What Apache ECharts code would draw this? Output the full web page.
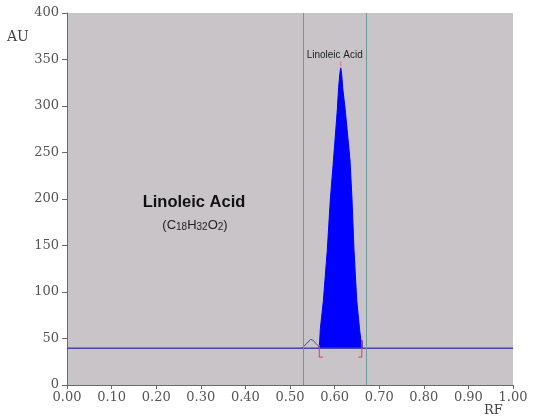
<!DOCTYPE html>
<html>
<head>
<meta charset="utf-8">
<script src="https://cdn.jsdelivr.net/npm/echarts@6/dist/echarts.min.js"></script>
<style>html,body{margin:0;padding:0;background:#fff;}#c{width:550px;height:420px;}</style>
</head>
<body>
<div id="c"></div>
<script>
// ---- data ----
const xTicks = [0, 0.1, 0.2, 0.3, 0.4, 0.5, 0.6, 0.7, 0.8, 0.9, 1.0];
const yTicks = [0, 50, 100, 150, 200, 250, 300, 350, 400];
// baseline of the densitogram (RF, AU)
const baseRF = [0, 1.0];
const baseAU = [39.5, 39.5];
// small impurity bump before the main peak
const bumpRF = [0.525, 0.530, 0.534, 0.538, 0.541, 0.546, 0.551, 0.554, 0.558, 0.5635, 0.5657];
const bumpAU = [39.5, 41, 43, 45, 46.6, 49, 48.4, 50, 44.8, 42, 39.5];
// tail bump after the main peak
const tailRF = [0.6608, 0.6612, 0.6625];
const tailAU = [39.5, 48, 39.5];
// main peak (Linoleic Acid)
const peakRF = [0.5657, 0.568, 0.5749, 0.5836, 0.5905, 0.5975, 0.6061, 0.609, 0.6118, 0.6137, 0.6158, 0.618, 0.6238, 0.6345, 0.639, 0.6435, 0.6496, 0.656, 0.6608];
const peakAU = [39.5, 60, 91, 145, 200, 242, 296, 320, 335, 341, 335, 320, 296, 242, 200, 145, 91, 60, 39.5];
const peakName = 'Linoleic Acid';
const peakApexRF = 0.6137;
const peakApexAU = 341;
// integration window (vertical lines) and bracket marks
const windowRF = [0.525, 0.666];
const bracketLeftRF = [0.5735, 0.5657, 0.5657];
const bracketLeftAU = [30, 30, 43];
const bracketRightRF = [0.6532, 0.661, 0.661];
const bracketRightAU = [30, 30, 48];

const chart = echarts.init(document.getElementById('c'));
const serif = 'DejaVu Serif';
const pairs = (xs, ys) => xs.map((x, i) => [x, ys[i]]);

chart.setOption({
  animation: false,
  backgroundColor: '#fff',
  grid: { left: 67, right: 37, top: 13, bottom: 35, containLabel: false, show: true, backgroundColor: '#c8c4c8', borderWidth: 0 },
  xAxis: {
    type: 'value', min: 0, max: 1, interval: 0.1,
    axisLine: { show: true, lineStyle: { color: '#6a6a6a', width: 1 } },
    axisTick: { show: true, length: 4, lineStyle: { color: '#6a6a6a' } },
    axisLabel: { margin: 6, color: '#555', fontFamily: serif, fontSize: 13, formatter: v => v.toFixed(2) },
    splitLine: { show: false }
  },
  yAxis: {
    type: 'value', min: 0, max: 400, interval: 50,
    axisLine: { show: true, lineStyle: { color: '#6a6a6a', width: 1 } },
    axisTick: { show: true, length: 5, lineStyle: { color: '#6a6a6a' } },
    axisLabel: { margin: 8, color: '#555', fontFamily: serif, fontSize: 13 },
    splitLine: { show: false }
  },
  graphic: [
    { type: 'text', left: 7, top: 30, style: { text: 'AU', font: '14px "DejaVu Serif"', fill: '#444' } },
    { type: 'text', left: 484, top: 404, style: { text: 'RF', font: '13px "DejaVu Serif"', fill: '#444' } },
    { type: 'text', x: 194, y: 202, style: { text: 'Linoleic Acid', font: 'bold 16.5px "Liberation Sans"', fill: '#111', textAlign: 'center', textVerticalAlign: 'middle' } },
    { type: 'text', x: 195, y: 225, style: {
        text: '{m|(C}{s|18}{m|H}{s|32}{m|O}{s|2}{m|)}',
        textAlign: 'center', textVerticalAlign: 'middle',
        rich: {
          m: { fontFamily: 'Liberation Sans', fontSize: 13, fill: '#222', color: '#222' },
          s: { fontFamily: 'Liberation Sans', fontSize: 10, fill: '#222', color: '#222', padding: [5, 0, 0, 0] }
        }
    } }
  ],
  series: [
    {
      type: 'line', data: pairs(peakRF, peakAU), symbol: 'none',
      lineStyle: { color: '#0000ff', width: 1 },
      areaStyle: { color: '#0000ff', opacity: 1, origin: 39.5 },
      z: 3,
      markPoint: {
        symbol: 'rect', symbolSize: [1, 5], symbolOffset: [0, -4],
        itemStyle: { color: '#e07070' },
        label: { show: true, formatter: peakName, position: 'top', distance: 1, offset: [-6, 0], fontSize: 10, color: '#222', fontFamily: 'Liberation Sans' },
        data: [{ coord: [peakApexRF, peakApexAU] }]
      }
    },
    {
      type: 'line', data: pairs(baseRF, baseAU), symbol: 'none',
      lineStyle: { color: '#4646a8', width: 1.5 }, z: 4,
      markLine: {
        silent: true, symbol: 'none', label: { show: false },
        lineStyle: { color: '#6c9a9a', width: 1, type: 'solid' },
        data: windowRF.map(x => ({ xAxis: x }))
      }
    },
    {
      type: 'line', data: pairs(bumpRF, bumpAU), symbol: 'none',
      lineStyle: { color: '#4646a8', width: 1 }, z: 4
    },
    {
      type: 'line', data: pairs(tailRF, tailAU), symbol: 'none',
      lineStyle: { color: '#3030c0', width: 1 }, z: 4
    },
    {
      type: 'line', data: pairs(bracketLeftRF, bracketLeftAU), symbol: 'none',
      lineStyle: { color: '#e04040', width: 1 }, z: 5
    },
    {
      type: 'line', data: pairs(bracketRightRF, bracketRightAU), symbol: 'none',
      lineStyle: { color: '#e04040', width: 1 }, z: 5
    }
  ]
});
</script>
</body>
</html>
